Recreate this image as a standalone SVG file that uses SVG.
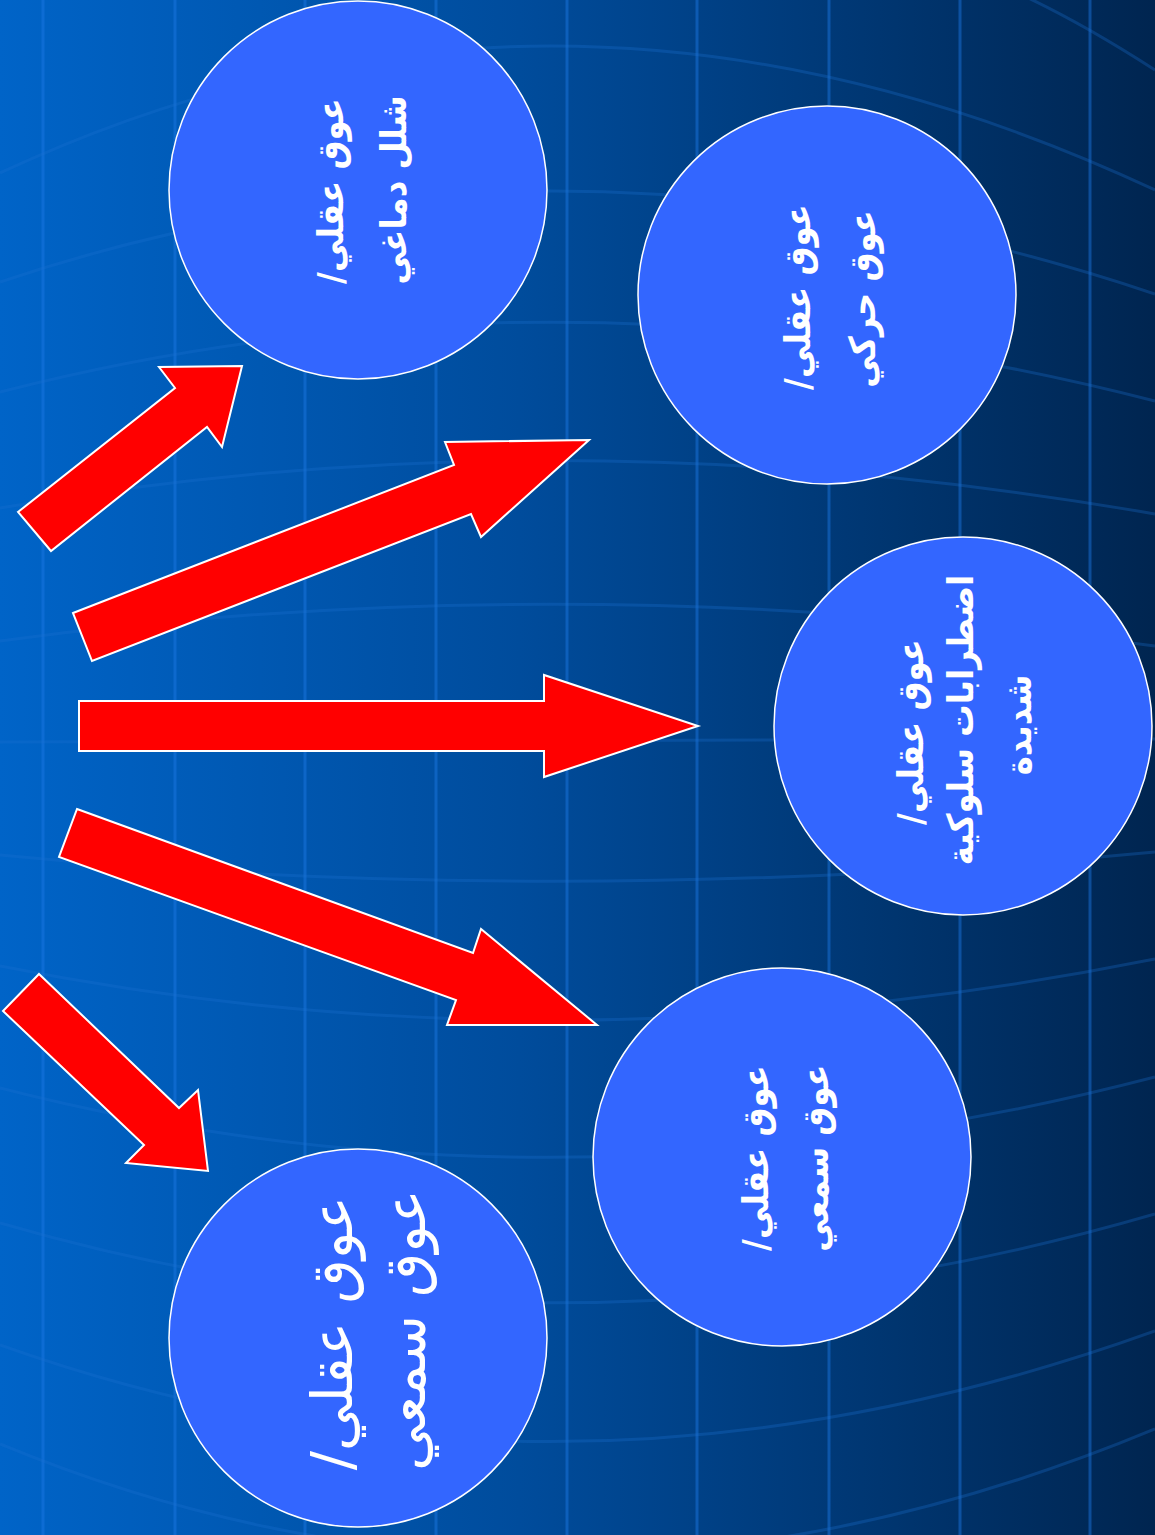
<svg xmlns="http://www.w3.org/2000/svg" width="1155" height="1535" viewBox="0 0 1155 1535">
<defs>
<linearGradient id="bg" x1="0" y1="0" x2="1" y2="0">
<stop offset="0" stop-color="#0064C8"/>
<stop offset="0.45" stop-color="#004C9C"/>
<stop offset="1" stop-color="#002550"/>
</linearGradient>
<style>
.vl{stroke:#1C7BE6;stroke-opacity:0.45;stroke-width:3;fill:none}
.cl{stroke:#1C6FD0;stroke-opacity:0.3;stroke-width:3;fill:none}
.node{fill:#3366FF;stroke:#FFFFFF;stroke-width:1.5}
.arrow{fill:#FF0000;stroke:#FFFFFF;stroke-width:2;stroke-linejoin:miter}
.t{fill:#FFFFFF;font-family:"DejaVu Sans Condensed","DejaVu Sans",sans-serif;font-weight:bold;font-size:36px;text-anchor:middle;dominant-baseline:central}
.t5{fill:#FFFFFF;font-family:"DejaVu Sans",sans-serif;font-size:57px;text-anchor:middle;dominant-baseline:central}
</style>
</defs>
<g id="background">
<rect x="0" y="0" width="1155" height="1535" fill="url(#bg)"/>
<g id="grid-vertical">
<line class="vl" x1="43" y1="0" x2="43" y2="1535"/>
<line class="vl" x1="175" y1="0" x2="175" y2="1535"/>
<line class="vl" x1="305" y1="0" x2="305" y2="1535"/>
<line class="vl" x1="436" y1="0" x2="436" y2="1535"/>
<line class="vl" x1="567" y1="0" x2="567" y2="1535"/>
<line class="vl" x1="697" y1="0" x2="697" y2="1535"/>
<line class="vl" x1="829" y1="0" x2="829" y2="1535"/>
<line class="vl" x1="960" y1="0" x2="960" y2="1535"/>
<line class="vl" x1="1090" y1="0" x2="1090" y2="1535"/>
</g>
<g id="grid-curves">
<path class="cl" d="M0,173 Q560,-89 1155,190"/>
<path class="cl" d="M900,-45 Q1000,-30 1155,70"/>
<path class="cl" d="M0,282 Q560,94 1155,294"/>
<path class="cl" d="M0,392 Q560,248 1155,401"/>
<path class="cl" d="M0,508 Q560,410 1155,514"/>
<path class="cl" d="M0,641 Q560,565 1155,646"/>
<path class="cl" d="M0,742 L1155,739"/>
<path class="cl" d="M0,855 Q560,909 1155,852"/>
<path class="cl" d="M0,966 Q560,1078 1155,959"/>
<path class="cl" d="M0,1088 Q560,1232 1155,1077"/>
<path class="cl" d="M0,1223 Q560,1387 1155,1214"/>
<path class="cl" d="M0,1345 Q560,1545 1155,1331"/>
<path class="cl" d="M0,1444 Q560,1676 1155,1429"/>
</g>
</g>
<g id="connectors">
<polygon class="arrow" points="18,512 175,388 159,367 242,366 222,447 207,427 51,551"/>
<polygon class="arrow" points="73,613 454,465 445,442 589,440 481,537 471,514 92,661"/>
<polygon class="arrow" points="79,701 544,701 544,675 698,726 544,777 544,751 79,751"/>
<polygon class="arrow" points="77,809 473,953 481,929 597,1025 447,1025 456,1000 59,857"/>
<polygon class="arrow" points="39,974 179,1108 198,1090 208,1171 126,1163 144,1145 3,1011"/>
</g>
<g id="node1">
<circle class="node" cx="358" cy="190" r="189"/>
<g transform="translate(358,190) rotate(-90)">
<text class="t" x="-1" y="-28">/عوق عقلي</text>
<text class="t" x="0" y="35">شلل دماغي</text>
</g>
</g>
<g id="node2">
<circle class="node" cx="827" cy="295" r="189"/>
<g transform="translate(827,295) rotate(-90)">
<text class="t" x="-2" y="-30">/عوق عقلي</text>
<text class="t" x="-4" y="35">عوق حركي</text>
</g>
</g>
<g id="node3">
<circle class="node" cx="963" cy="726" r="189"/>
<g transform="translate(963,726) rotate(-90)">
<text class="t" x="-6" y="-53">/عوق عقلي</text>
<text class="t" x="6" y="-3">اضطرابات سلوكية</text>
<text class="t" x="1" y="55">شديدة</text>
</g>
</g>
<g id="node4">
<circle class="node" cx="782" cy="1157" r="189"/>
<g transform="translate(782,1157) rotate(-90)">
<text class="t" x="-1" y="-27">/عوق عقلي</text>
<text class="t" x="-1" y="33">عوق سمعي</text>
</g>
</g>
<g id="node5">
<circle class="node" cx="358" cy="1338" r="189"/>
<g transform="translate(358,1338) rotate(-90)">
<text class="t5" x="5" y="-26">/عوق عقلي</text>
<text class="t5" x="8" y="47">عوق سمعي</text>
</g>
</g>
</svg>
